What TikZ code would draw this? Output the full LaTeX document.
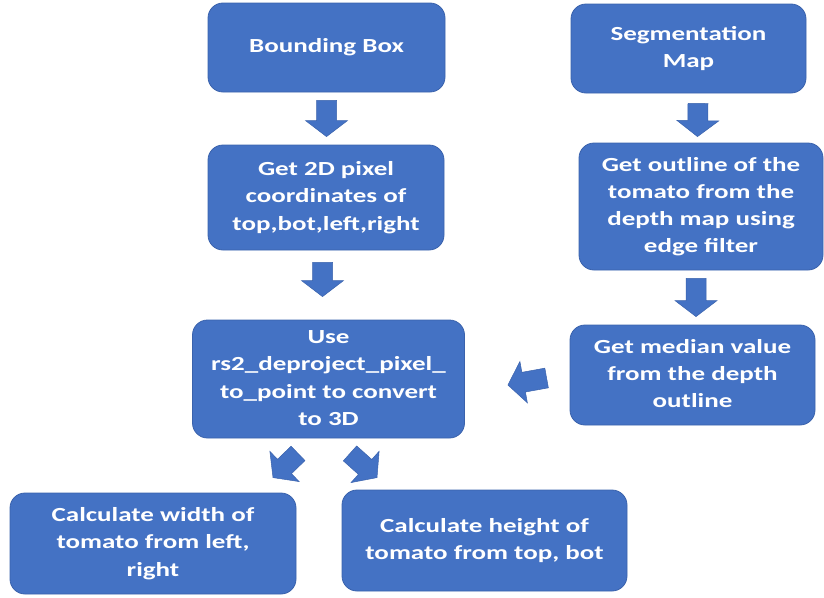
\documentclass[tikz,border=0pt]{standalone}
\usepackage{fontspec}
\setmainfont{Carlito}
\usepackage{graphicx}
\usetikzlibrary{calc}
\definecolor{boxblue}{HTML}{4472C4}
\definecolor{boxedge}{HTML}{3A62AC}
\newcommand{\stretchtext}[1]{\scalebox{1.35}[1]{\begin{tabular}{@{}c@{}}#1\end{tabular}}}

\begin{document}
\begin{tikzpicture}[x=1pt, y=-1pt,
	procbox/.style={draw=boxedge, line width=0.8pt, fill=boxblue, rounded corners=15pt, text=white, inner sep=0pt, font=\fontsize{20}{27.3}\selectfont\bfseries},
	blockarrow/.style={fill=boxblue, draw=boxedge, line width=0.5pt, to path={
		let \p1=(\tikztostart), \p2=(\tikztotarget), \n1={atan2(\y2-\y1,\x2-\x1)} in
		($(\p1)+(\n1+90:10pt)$) -- ($(\p2)+(\n1+180:16pt)+(\n1+90:10pt)$) -- ($(\p2)+(\n1+180:16pt)+(\n1+90:21pt)$) -- (\p2)
		-- ($(\p2)+(\n1+180:16pt)+(\n1-90:21pt)$) -- ($(\p2)+(\n1+180:16pt)+(\n1-90:10pt)$) -- ($(\p1)+(\n1-90:10pt)$) -- cycle}}]
	\useasboundingbox (0,0) rectangle (824,597);
	
	\node[procbox, minimum width=237pt, minimum height=89pt] (bbox) at (326.5,47.5) {\stretchtext{Bounding Box}};
	
	\node[procbox, minimum width=235pt, minimum height=89pt] (segm) at (688.5,48.5) {\stretchtext{Segmentation\\Map}};
	
	\node[procbox, minimum width=236pt, minimum height=105pt] (get2d) at (326,197.5) {\stretchtext{Get 2D pixel\\coordinates of\\top,bot,left,right}};
	
	\node[procbox, minimum width=244pt, minimum height=127pt] (outline) at (701,206.5) {\stretchtext{Get outline of the\\tomato from the\\depth map using\\edge filter}};
	
	\node[procbox, minimum width=245pt, minimum height=100pt] (median) at (692.5,375) {\stretchtext{Get median value\\from the depth\\outline}};
	
	\node[procbox, minimum width=272pt, minimum height=118pt] (deproj) at (328.5,379) {\stretchtext{Use\\rs2\_deproject\_pixel\_\\to\_point to convert\\to 3D}};
	
	\node[procbox, minimum width=286pt, minimum height=101pt] (calcw) at (153,543.5) {\stretchtext{Calculate width of\\tomato from left,\\right}};
	
	\node[procbox, minimum width=285pt, minimum height=101pt] (calch) at (484.5,540.5) {\stretchtext{Calculate height of\\tomato from top, bot}};
	
	\draw[blockarrow] ($(bbox.south)+(0,8)$) to ($(get2d.north)+(0.5,-8)$);
	
	\draw[blockarrow] ($(get2d.south)+(-3.5,12)$) to ($(deproj.north)+(-6,-23)$);
	
	\draw[blockarrow] ($(segm.south)+(9.5,10)$) to ($(outline.north)+(-3.5,-6)$);
	
	\draw[blockarrow] ($(outline.south)+(-5,8)$) to ($(median.north)+(3.5,-8)$);
	
	\draw[blockarrow] ($(median.west)+(-23,3)$) to ($(deproj.east)+(43,6)$);
	
	\draw[blockarrow] ($(deproj.south)+(-30.5,15)$) to ($(calcw.north)+(120,-15)$);
	
	\draw[blockarrow] ($(deproj.south)+(21.5,15)$) to ($(calch.north)+(-107.5,-12)$);
\end{tikzpicture}
\end{document}
